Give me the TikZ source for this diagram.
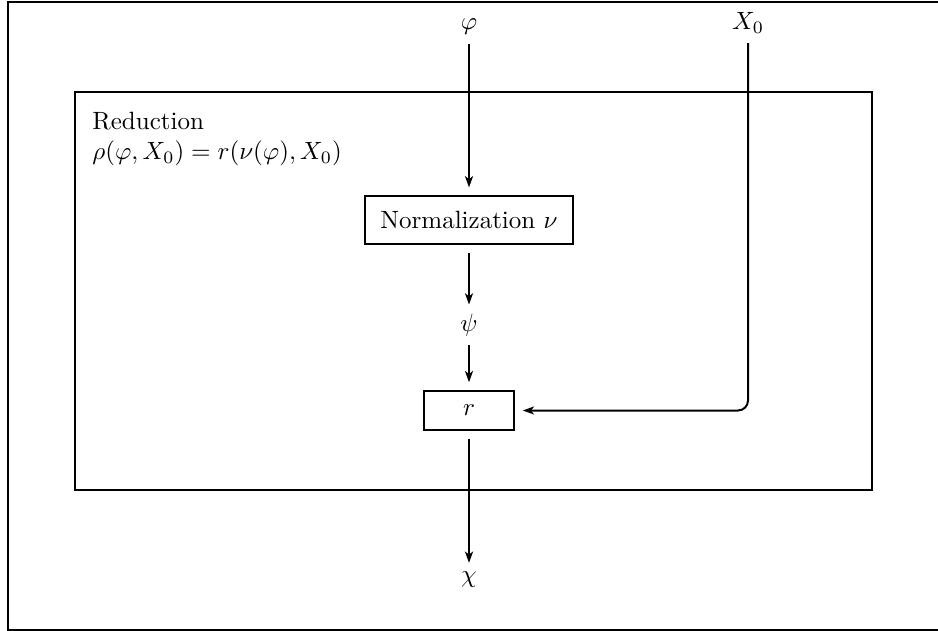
\documentclass[tikz,border=0pt]{standalone}
\usepackage{tikz}
\usetikzlibrary{
    arrows.meta,   % For arrow tips
    positioning    % For label positioning
}

\begin{document}
\begin{tikzpicture}[
    x=0.4pt, y=-0.4pt, % one unit is one pixel of the layout
    thick,
    >={Stealth[length=4.5pt, width=3.2pt, inset=1.2pt]}, % Set default arrow tip style
    % Style for the boxes inside the reduction
    stagebox/.style={draw, outer sep=3.5pt},
    % Style for the variables on the data flow
    flowvar/.style={inner sep=0.3333em},
    flowarrow/.style={->}
]

    % Fix the page size and draw the outer frame (its right side lies off the page)
    \useasboundingbox (0,0) rectangle (938,631);
    \draw (8,2.5) rectangle (942,630);

    % The reduction block with its label
    \node[draw, inner sep=0pt, minimum width=318.8pt, minimum height=159.2pt] (reduction) at (473.5,291) {};
    \node[anchor=north west, inner xsep=7pt, inner ysep=8pt, align=left] (redlabel) at (reduction.north west)
        {Reduction\\$\rho(\varphi,X_0)=r(\nu(\varphi),X_0)$};

    % Inputs
    \node[flowvar, anchor=base] (phi) at (469,30) {$\varphi$};
    \node[flowvar, anchor=base] (xzero) at (748,30) {$X_0$};

    % Stages
    \node[stagebox, inner sep=6pt] (norm) at (469,220) {Normalization $\nu$};
    \node[flowvar] (psi) at (469,325) {$\psi$};
    \node[stagebox, inner sep=0pt, minimum width=36pt, minimum height=15.6pt] (rmap) at (469,410.5) {$r$};

    % Output
    \node[flowvar] (chi) at (469,580) {$\chi$};

    % Data flow
    \draw[flowarrow] (phi) -- (norm);
    \draw[flowarrow] (norm) -- (psi);
    \draw[flowarrow] (psi) -- (rmap);
    \draw[flowarrow] (rmap) -- (chi);
    \draw[flowarrow, rounded corners] (xzero) |- (rmap); % X_0 goes straight to r

\end{tikzpicture}
\end{document}
